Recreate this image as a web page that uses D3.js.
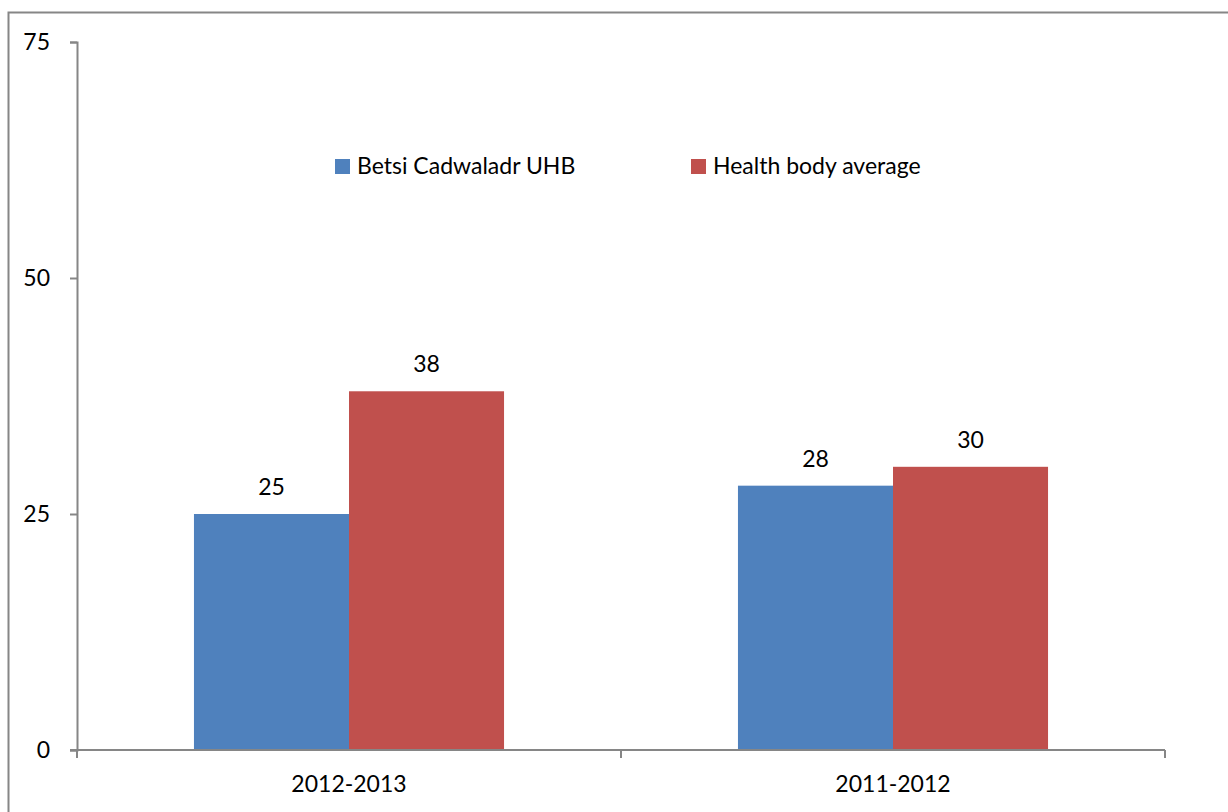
<!DOCTYPE html>
<html>
<head>
<meta charset="utf-8">
<script src="https://cdn.jsdelivr.net/npm/d3@7"></script>
<style>
  html, body { margin: 0; padding: 0; background: #fff; }
  svg { display: block; font-family: Lato, "Open Sans", sans-serif; }
</style>
</head>
<body>
<svg id="chart" width="1228" height="812"></svg>
<script>
// Reporting periods and series values
const categories = ["2012-2013", "2011-2012"];
const seriesNames = ["Betsi Cadwaladr UHB", "Health body average"];
const betsiValues = [25, 28];
const averageValues = [38, 30];
const yTicks = [0, 25, 50, 75];
const colors = ["#4F81BD", "#C0504D"];

const svg = d3.select("#chart");
const W = 1228, H = 812;
const FONT = 23;

// outer chart frame
svg.append("rect")
  .attr("x", 8.5).attr("y", 12.5)
  .attr("width", W + 10).attr("height", H + 10)
  .attr("fill", "none").attr("stroke", "#868686").attr("stroke-width", 2);

const plot = { left: 77, right: 1165, top: 42, bottom: 750 };

const y = d3.scaleLinear().domain([0, 75]).range([plot.bottom, plot.top]);
const x0 = d3.scaleBand().domain(categories).range([plot.left, plot.right]).padding(0);
const gap = x0.bandwidth() * 0.215;
const x1 = d3.scaleBand().domain(seriesNames).range([gap, x0.bandwidth() - gap]).padding(0);

const rows = categories.map((c, i) => ({ cat: c, vals: [betsiValues[i], averageValues[i]] }));

// bars
const groups = svg.append("g").selectAll("g").data(rows).join("g")
  .attr("transform", d => `translate(${x0(d.cat)},0)`);

groups.selectAll("rect").data(d => d.vals.map((v, k) => ({ v, k }))).join("rect")
  .attr("x", d => x1(seriesNames[d.k]))
  .attr("width", x1.bandwidth())
  .attr("y", d => y(d.v))
  .attr("height", d => y(0) - y(d.v))
  .attr("fill", d => colors[d.k]);

// value labels
groups.selectAll("text").data(d => d.vals.map((v, k) => ({ v, k }))).join("text")
  .attr("x", d => x1(seriesNames[d.k]) + x1.bandwidth() / 2)
  .attr("y", d => y(d.v) - 19)
  .attr("text-anchor", "middle")
  .attr("font-size", FONT)
  .attr("fill", "#000")
  .text(d => d.v);

// y axis
const yAxis = d3.axisLeft(y).tickValues(yTicks).tickSize(7).tickPadding(20);
const gy = svg.append("g").attr("transform", `translate(${plot.left},0)`).call(yAxis);
gy.select(".domain").attr("stroke", "#868686").attr("stroke-width", 2);
gy.selectAll(".tick line").attr("stroke", "#868686").attr("stroke-width", 2);
gy.selectAll(".tick text").attr("font-size", FONT).attr("fill", "#000")
  .attr("font-family", "Lato, 'Open Sans', sans-serif");

// x axis
const gx = svg.append("g").attr("transform", `translate(0,${plot.bottom})`);
gx.append("line").attr("x1", plot.left - 7).attr("x2", plot.right)
  .attr("stroke", "#868686").attr("stroke-width", 2);
const bounds = [plot.left, ...categories.map(c => x0(c) + x0.bandwidth())];
gx.selectAll("line.tick").data(bounds).join("line").attr("class", "tick")
  .attr("x1", d => d).attr("x2", d => d).attr("y1", 0).attr("y2", 8)
  .attr("stroke", "#868686").attr("stroke-width", 2);
gx.selectAll("text").data(categories).join("text")
  .attr("x", d => x0(d) + x0.bandwidth() / 2)
  .attr("y", 42)
  .attr("text-anchor", "middle")
  .attr("font-size", FONT)
  .text(d => d);

// legend
const legend = svg.append("g").attr("transform", "translate(335,159)");
const legendX = [0, 356];
seriesNames.forEach((name, k) => {
  const g = legend.append("g").attr("transform", `translate(${legendX[k]},0)`);
  g.append("rect").attr("width", 15).attr("height", 15).attr("fill", colors[k]);
  g.append("text").attr("x", 22).attr("y", 15).attr("font-size", FONT).text(name);
});
</script>
</body>
</html>
